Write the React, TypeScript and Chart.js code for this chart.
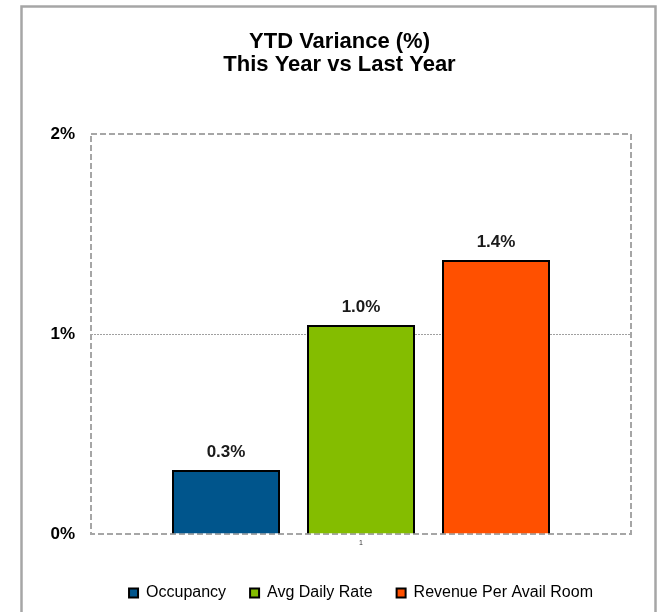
import React, { useEffect, useRef } from "react";
import { Chart, registerables } from "chart.js";

Chart.register(...registerables);

const categories = ["1"];
const seriesNames = ["Occupancy", "Avg Daily Rate", "Revenue Per Avail Room"];
const occupancy = [0.32];
const avgDailyRate = [1.045];
const revPar = [1.37];
const seriesColors = ["#00558C", "#84BD00", "#FF5000"];
const yTicks = [0, 1, 2];
const titleLines = ["YTD Variance (%)", "This Year vs Last Year"];

const FONT = "'Liberation Sans', Arial, Helvetica, sans-serif";

const framePlugin = {
  id: "frame",
  beforeDraw(chart: any) {
    const { ctx } = chart;
    ctx.save();
    ctx.fillStyle = "#ffffff";
    ctx.fillRect(0, 0, chart.width, chart.height);
    ctx.strokeStyle = "#a6a6a6";
    ctx.lineWidth = 2.5;
    ctx.strokeRect(21.5, 6.5, 634, chart.height + 20);
    ctx.restore();
  },
  beforeDatasetsDraw(chart: any) {
    const { ctx, chartArea } = chart;
    ctx.save();
    ctx.strokeStyle = "#a6a6a6";
    ctx.lineWidth = 2;
    ctx.setLineDash([6, 3]);
    ctx.strokeRect(chartArea.left, chartArea.top, chartArea.right - chartArea.left, chartArea.bottom - chartArea.top);
    ctx.restore();
  },
};

const labelPlugin = {
  id: "valueLabels",
  afterDatasetsDraw(chart: any) {
    const { ctx } = chart;
    ctx.save();
    ctx.font = `bold 17px ${FONT}`;
    ctx.fillStyle = "#1a1a1a";
    ctx.textAlign = "center";
    ctx.textBaseline = "middle";
    chart.data.datasets.forEach((ds: any, i: number) => {
      const meta = chart.getDatasetMeta(i);
      meta.data.forEach((el: any, j: number) => {
        const v = ds.data[j];
        ctx.fillText(v.toFixed(1) + "%", el.x, el.y - 18);
      });
    });
    ctx.restore();
  },
};

export default function App() {
  const ref = useRef<HTMLCanvasElement | null>(null);
  useEffect(() => {
    if (!ref.current) return;
    const values = [occupancy, avgDailyRate, revPar];
    const chart = new Chart(ref.current, {
      type: "bar",
      data: {
        labels: categories,
        datasets: seriesNames.map((name, i) => ({
          label: name,
          data: values[i],
          backgroundColor: seriesColors[i],
          borderColor: "#000000",
          borderWidth: 2,
          categoryPercentage: 0.75,
          barPercentage: 0.8,
        })),
      },
      options: {
        animation: false,
        responsive: false,
        maintainAspectRatio: false,
        layout: { padding: { left: 48, right: 27, top: 6, bottom: 1 } },
        plugins: {
          tooltip: { enabled: false },
          title: {
            display: true,
            text: titleLines,
            color: "#000000",
            font: { family: FONT, size: 22, weight: "bold", lineHeight: 1.05 },
            padding: { top: 24.5, bottom: 57.3 },
          },
          legend: {
            position: "bottom",
            fullSize: false,
            labels: {
              boxWidth: 9,
              boxHeight: 9,
              padding: 24,
              color: "#000000",
              font: { family: FONT, size: 16 },
            },
          },
        },
        scales: {
          x: {
            grid: { display: false, drawTicks: false },
            border: { display: false },
            ticks: { font: { family: FONT, size: 7 }, color: "#333333", padding: 5 },
            afterFit(scale: any) {
              scale.height = 27;
            },
          },
          y: {
            min: 0,
            max: 2,
            afterBuildTicks(scale: any) {
              scale.ticks = yTicks.map((v) => ({ value: v }));
            },
            grid: {
              drawTicks: false,
              lineWidth: 1,
              color: (c: any) => (c.tick && c.tick.value === 1 ? "#a0a0a0" : "rgba(0,0,0,0)"),
            },
            border: { display: false, dash: [2, 1] },
            ticks: {
              padding: 16,
              color: "#000000",
              font: { family: FONT, size: 17, weight: "bold" },
              callback: (v: any) => `${v}%`,
            },
            afterFit(scale: any) {
              scale.width = 43;
            },
          },
        },
      },
      plugins: [framePlugin, labelPlugin],
    } as any);
    return () => chart.destroy();
  }, []);
  return (
    <div style={{ position: "absolute", left: 0, top: 0, width: 658, height: 612 }}>
      <canvas ref={ref} width={658} height={612} style={{ width: 658, height: 612 }} />
    </div>
  );
}
